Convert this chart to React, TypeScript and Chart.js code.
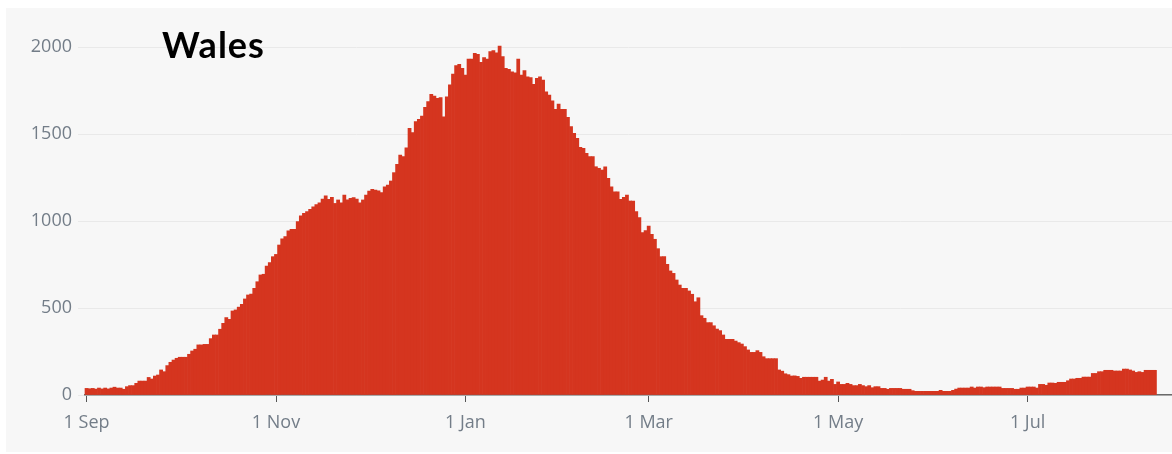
import React, { useEffect, useRef } from "react";
import { Chart, registerables } from "chart.js";

Chart.register(...registerables);

// Daily values, 1 Sep 2020 onward (one per day)
const DAILY_CASES: number[] = [
  // Sep
  38, 36, 38, 34, 40, 35, 40, 35, 40, 45, 40, 40, 33, 48, 54, 54, 67, 80, 80, 80,
  101, 92, 109, 115, 144, 134, 169, 188, 201, 211,
  // Oct
  217, 217, 217, 234, 253, 263, 288, 288, 291, 291, 324, 345, 345, 378, 412, 445,
  435, 483, 489, 505, 521, 552, 575, 580, 613, 651, 690, 694, 741, 761, 795,
  // Nov
  808, 862, 897, 910, 944, 952, 952, 996, 1029, 1044, 1054, 1067, 1082, 1095, 1105,
  1126, 1144, 1124, 1136, 1101, 1121, 1105, 1149, 1121, 1130, 1134, 1126, 1105, 1121, 1149,
  // Dec
  1172, 1182, 1178, 1174, 1163, 1197, 1207, 1230, 1278, 1326, 1379, 1370, 1421, 1533, 1508,
  1571, 1584, 1603, 1653, 1686, 1728, 1718, 1705, 1709, 1599, 1714, 1782, 1845, 1893, 1900,
  1877,
  // Jan
  1839, 1931, 1931, 1964, 1958, 1912, 1939, 1931, 1973, 1979, 1966, 2006, 1945, 1877, 1872,
  1858, 1852, 1931, 1839, 1864, 1829, 1824, 1786, 1820, 1829, 1810, 1743, 1724, 1690, 1642,
  1672,
  // Feb
  1642, 1642, 1596, 1542, 1504, 1475, 1423, 1418, 1389, 1370, 1370, 1312, 1303, 1293, 1312,
  1245, 1197, 1168, 1168, 1125, 1136, 1149, 1115, 1115, 1054, 1019, 933, 945,
  // Mar
  971, 923, 895, 841, 795, 795, 751, 713, 699, 661, 632, 613, 613, 598, 579,
  536, 559, 456, 441, 416, 416, 398, 379, 370, 345, 320, 320, 320, 310, 301,
  293,
  // Apr
  278, 259, 245, 245, 255, 245, 220, 209, 209, 209, 209, 144, 137, 122, 117,
  109, 110, 107, 96, 102, 102, 102, 102, 102, 80, 86, 102, 80, 90, 61,
  // May
  75, 61, 61, 67, 61, 54, 54, 61, 54, 48, 54, 42, 48, 48, 38,
  38, 33, 38, 38, 38, 38, 33, 33, 33, 25, 21, 21, 21, 21, 21, 21,
  // Jun
  21, 21, 27, 21, 21, 21, 27, 34, 40, 40, 40, 40, 46, 40, 46,
  46, 42, 46, 46, 46, 46, 46, 38, 38, 38, 38, 33, 33, 40, 40,
  // Jul
  46, 46, 46, 40, 61, 61, 56, 69, 69, 67, 73, 73, 73, 82, 92,
  92, 96, 96, 103, 103, 103, 124, 124, 134, 134, 142, 142, 142, 138, 138,
  138,
  // Aug
  149, 149, 144, 138, 130, 134, 130, 142, 142, 142, 142,
];

const START_DATE = "2020-09-01";
const EMPTY_TRAILING_DAYS = 5;
const TICK_DAYS: number[] = [0, 61, 122, 181, 242, 303];
const TICK_LABELS: string[] = ["1 Sep", "1 Nov", "1 Jan", "1 Mar", "1 May", "1 Jul"];
const Y_TICKS: number[] = [0, 500, 1000, 1500, 2000];
const TITLE = "Wales";

const MONTHS = ["Jan", "Feb", "Mar", "Apr", "May", "Jun", "Jul", "Aug", "Sep", "Oct", "Nov", "Dec"];

function buildLabels(): string[] {
  const out: string[] = [];
  const d = new Date(START_DATE + "T00:00:00Z");
  const n = DAILY_CASES.length + EMPTY_TRAILING_DAYS;
  for (let i = 0; i < n; i++) {
    out.push(`${d.getUTCDate()} ${MONTHS[d.getUTCMonth()]}`);
    d.setUTCDate(d.getUTCDate() + 1);
  }
  return out;
}

export default function App() {
  const canvasRef = useRef<HTMLCanvasElement | null>(null);

  useEffect(() => {
    const canvas = canvasRef.current;
    if (!canvas) return;
    const labels = buildLabels();
    const tickColor = "#737d88";
    const chart = new Chart(canvas, {
      type: "bar",
      data: {
        labels,
        datasets: [
          {
            data: DAILY_CASES,
            backgroundColor: "#d5351f",
            borderWidth: 0,
            barPercentage: 1,
            categoryPercentage: 1,
            clip: false as any,
          },
        ],
      },
      options: {
        animation: false,
        responsive: false,
        maintainAspectRatio: false,
        events: [],
        layout: { padding: { top: 47, left: 0, right: 0, bottom: 0 } },
        plugins: {
          legend: { display: false },
          tooltip: { enabled: false },
          title: { display: false },
        },
        scales: {
          x: {
            type: "category",
            offset: true,
            grid: {
              offset: false,
              drawOnChartArea: false,
              drawTicks: true,
              tickLength: 7,
              tickColor: "#555555",
              tickWidth: 1,
            },
            border: { display: true, color: "#6a6a6a", width: 1.5 },
            afterBuildTicks: (scale: any) => {
              scale.ticks = TICK_DAYS.map((v) => ({ value: v }));
            },
            afterFit: (scale: any) => {
              scale.height = 59;
            },
            ticks: {
              autoSkip: false,
              maxRotation: 0,
              minRotation: 0,
              padding: 10,
              color: tickColor,
              font: { family: "'Open Sans'", size: 18 },
              callback: (value: any) => {
                const k = TICK_DAYS.indexOf(Number(value));
                return k >= 0 ? TICK_LABELS[k] : "";
              },
            },
          },
          y: {
            type: "linear",
            min: 0,
            max: 2000,
            afterBuildTicks: (scale: any) => {
              scale.ticks = Y_TICKS.map((v) => ({ value: v }));
            },
            afterFit: (scale: any) => {
              scale.width = 85;
            },
            grid: {
              color: "#e9e9e9",
              lineWidth: 1,
              drawTicks: true,
              tickLength: 7,
              tickColor: "#e9e9e9",
            },
            border: { display: false },
            ticks: {
              padding: 6,
              color: tickColor,
              font: { family: "'Open Sans'", size: 18 },
              callback: (value: any) => String(value),
            },
          },
        },
      },
    });
    return () => chart.destroy();
  }, []);

  return (
    <div
      style={{
        position: "fixed",
        left: 0,
        top: 0,
        width: 1172,
        height: 454,
        background: "#ffffff",
        overflow: "hidden",
      }}
    >
      <div
        style={{
          position: "absolute",
          left: 6,
          top: 8,
          width: 1166,
          height: 444,
          background: "#f7f7f7",
        }}
      />
      <canvas
        ref={canvasRef}
        width={1172}
        height={454}
        style={{ position: "absolute", left: 0, top: 0, width: 1172, height: 454 }}
      />
      <div
        style={{
          position: "absolute",
          left: 162,
          top: 26,
          fontFamily: "Lato, 'Open Sans', sans-serif",
          fontWeight: 700,
          fontSize: 36,
          lineHeight: "36px",
          letterSpacing: "1px",
          color: "#000000",
          whiteSpace: "nowrap",
        }}
      >
        {TITLE}
      </div>
    </div>
  );
}
